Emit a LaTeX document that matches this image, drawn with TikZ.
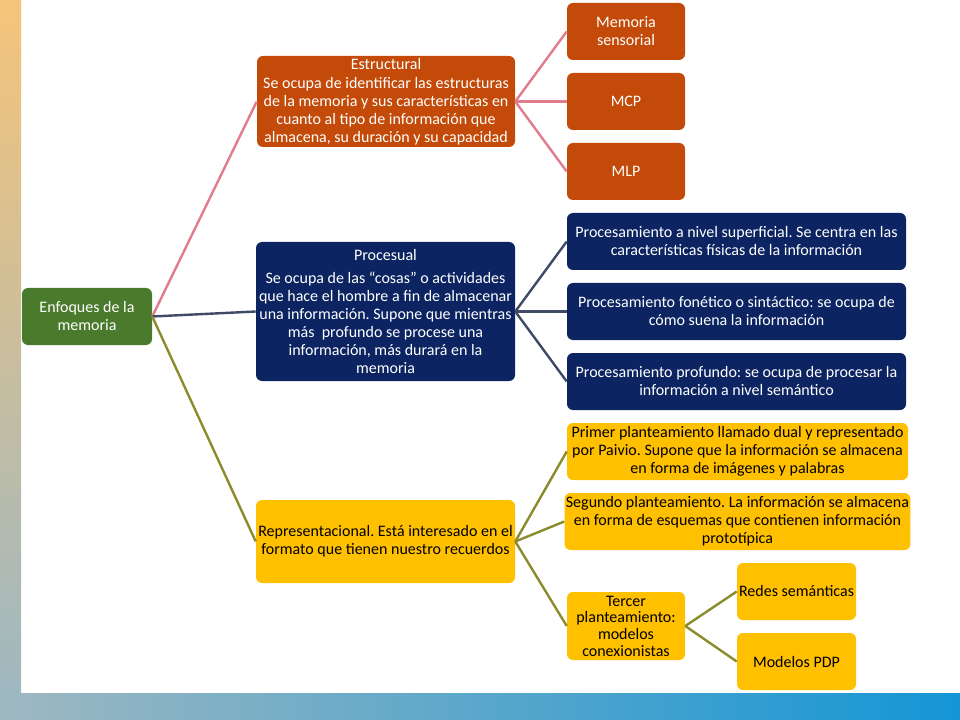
\documentclass[tikz,border=0pt]{standalone}
\usepackage{fontspec}
\setmainfont{Carlito}
\frenchspacing
\definecolor{ocre}{HTML}{C34A08}
\definecolor{marino}{HTML}{0C2461}
\definecolor{verde}{HTML}{4A7A2C}
\definecolor{amarillo}{HTML}{FFC000}
\definecolor{rosa}{HTML}{E07C8C}
\definecolor{pizarra}{HTML}{3F4A66}
\definecolor{oliva}{HTML}{8C8C2E}
\definecolor{arena}{HTML}{F5C47A}
\definecolor{crema}{HTML}{FCDDA2}
\definecolor{gris}{HTML}{9FB8C0}
\definecolor{celeste}{HTML}{1496D6}
\begin{document}
\begin{tikzpicture}[x=0.75pt,y=-0.75pt,
  caja/.style={rounded corners=4.5pt, align=center, inner sep=1pt,
    font=\fontsize{12}{13.5}\selectfont},
  raiz/.style={caja, fill=verde, text=white},
  estr/.style={caja, fill=ocre, text=white},
  proc/.style={caja, fill=marino, text=white},
  repr/.style={caja, fill=amarillo, text=black},
  chica/.style={minimum width=88.5pt, minimum height=42.75pt},
  ancha/.style={minimum width=254.25pt, minimum height=42.75pt},
  rama/.style={line width=1.8pt}]
\useasboundingbox (0,0) rectangle (960,720);
% fondo
\fill[white] (0,0) rectangle (960,720);
\shade[top color=arena, middle color=crema, bottom color=gris] (0,0) rectangle (21,693);
\shade[left color=gris, right color=celeste] (0,693) rectangle (960,720);
% raiz
\node[raiz, minimum width=97.5pt, minimum height=42.75pt] (enfoques) at (87,316.5) {Enfoques de la\\memoria};
% estructural
\node[estr, minimum width=193.5pt, minimum height=68.25pt] (estructural) at (386,101.5)
  {Estructural\\[1pt]Se ocupa de identificar las estructuras\\de la memoria y sus características en\\cuanto al tipo de información que\\almacena, su duración y su capacidad};
\node[estr, chica] (sensorial) at (626,31.5) {Memoria\\sensorial};
\node[estr, chica] (mcp) at (626,101.5) {MCP};
\node[estr, chica] (mlp) at (626,171.5) {MLP};
% procesual
\node[proc, minimum width=194.25pt, minimum height=104.25pt] (procesual) at (385.5,311.5)
  {Procesual\\[4pt]Se ocupa de las ``cosas'' o actividades\\que hace el hombre a fin de almacenar\\una información. Supone que mientras\\más \ profundo se procese una\\información, más durará en la\\memoria};
\node[proc, ancha] (superficial) at (736.5,241.5) {Procesamiento a nivel superficial. Se centra en las\\características físicas de la información};
\node[proc, ancha] (fonetico) at (736.5,311.5) {Procesamiento fonético o sintáctico: se ocupa de\\cómo suena la información};
\node[proc, ancha] (profundo) at (736.5,381.5) {Procesamiento profundo: se ocupa de procesar la\\información a nivel semántico};
% representacional
\node[repr, minimum width=194.25pt, minimum height=62.25pt] (representacional) at (385.5,541.5)
  {Representacional. Está interesado en el\\formato que tienen nuestro recuerdos};
\node[repr, minimum width=255.75pt, minimum height=42.75pt] (primer) at (737.5,451.5)
  {Primer planteamiento llamado dual y representado\\por Paivio. Supone que la información se almacena\\en forma de imágenes y palabras};
\node[repr, minimum width=255.75pt, minimum height=42.75pt] (segundo) at (737.5,521.5)
  {Segundo planteamiento. La información se almacena\\en forma de esquemas que contienen información\\prototípica};
\node[repr, minimum width=88.5pt, minimum height=51pt, font=\fontsize{12}{12.5}\selectfont] (tercer) at (626,626)
  {Tercer\\planteamiento:\\modelos\\conexionistas};
\node[repr, minimum width=89.25pt, minimum height=42.75pt] (redes) at (796.5,591.5) {Redes semánticas};
\node[repr, minimum width=89.25pt, minimum height=42.75pt] (pdp) at (796.5,661.5) {Modelos PDP};
% ramas
\draw[rama, rosa] (enfoques.east) -- (estructural.west);
\draw[rama, pizarra] (enfoques.east) -- (procesual.west);
\draw[rama, oliva] (enfoques.east) -- (representacional.west);
\foreach \h in {sensorial, mcp, mlp}
  \draw[rama, rosa] (estructural.east) -- (\h.west);
\foreach \h in {superficial, fonetico, profundo}
  \draw[rama, pizarra] (procesual.east) -- (\h.west);
\foreach \h in {primer, segundo, tercer}
  \draw[rama, oliva] (representacional.east) -- (\h.west);
\foreach \h in {redes, pdp}
  \draw[rama, oliva] (tercer.east) -- (\h.west);
\end{tikzpicture}
\end{document}
